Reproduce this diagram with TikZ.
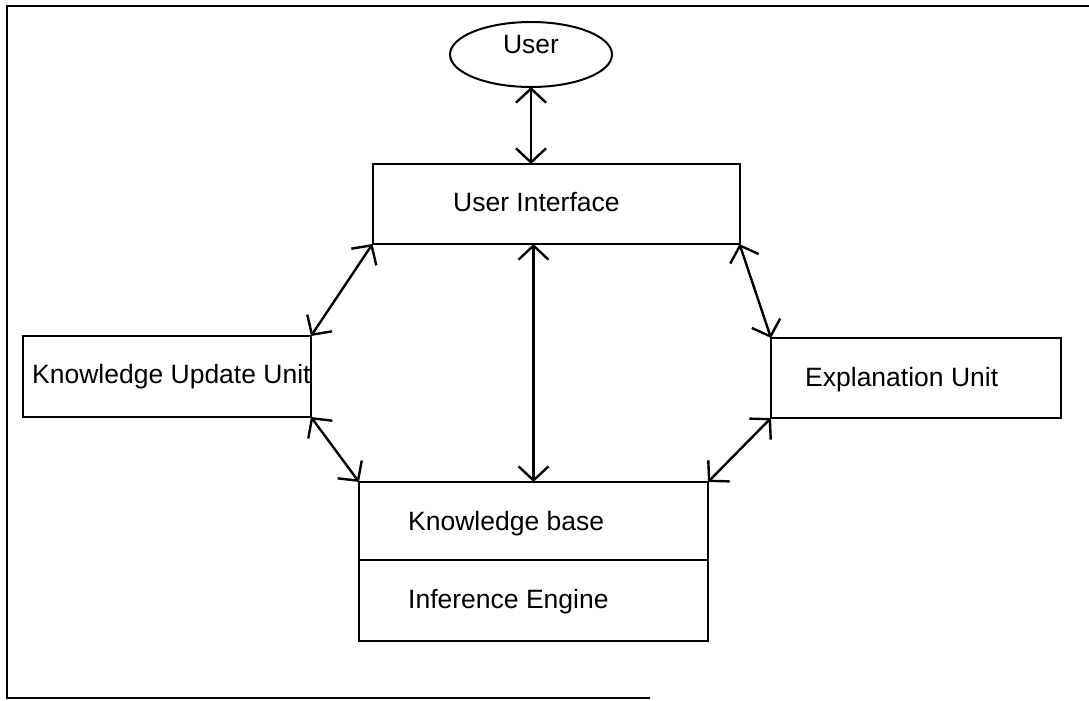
\documentclass[tikz,border=0pt]{standalone}
\usepackage{fontspec}
\setmainfont{Liberation Sans}
\usetikzlibrary{arrows.meta,shapes.geometric}
\begin{document}
\begin{tikzpicture}[x=1pt,y=-1pt,
  box/.style={draw, line width=2pt, rectangle, outer sep=0pt, inner sep=0pt},
  lbl/.style={font=\fontsize{26.5}{30}\selectfont, inner sep=0pt, anchor=base west},
  link/.style={line width=2.4pt, {Straight Barb[length=14pt,width=30pt,line width=2.4pt]}-{Straight Barb[length=14pt,width=30pt,line width=2.4pt]}}]
\useasboundingbox (0,0) rectangle (1089,701);
% frame
\draw[line width=2pt] (1089,6) -- (7,6) -- (7,698) -- (650,698);
% nodes
\node[draw, line width=2pt, ellipse, outer sep=0pt, minimum width=162pt, minimum height=65pt] (user) at (531,54.5) {};
\node[box, minimum width=367pt, minimum height=80pt] (ui) at (556,204) {};
\node[box, minimum width=288pt, minimum height=81pt] (kuu) at (167,376.5) {};
\node[box, minimum width=290pt, minimum height=80pt] (eu) at (916,378) {};
\node[box, minimum width=349pt, minimum height=78pt] (kb) at (533.5,521) {};
\node[box, minimum width=349pt, minimum height=81pt] (ie) at (533.5,600.5) {};
% labels
\node[lbl, anchor=base] (tuser) at (531,54) {User};
\node[lbl] (tui) at (453,211.5) {User Interface};
\node[lbl] (tkuu) at (32,383.5) {Knowledge Update Unit};
\node[lbl] (teu) at (805,386.5) {Explanation Unit};
\node[lbl] (tkb) at (408,530) {Knowledge base};
\node[lbl] (tie) at (408,608) {Inference Engine};
% connectors
\draw[link] (user.south) -- (ui.north -| user.south);
\draw[link] (ui.south -| kb.north) -- (kb.north);
\draw[link] (ui.south west) -- (kuu.north east);
\draw[link] (kuu.south east) -- (kb.north west);
\draw[link] (ui.south east) -- (eu.north west);
\draw[link] (eu.south west) -- (kb.north east);
\end{tikzpicture}
\end{document}
